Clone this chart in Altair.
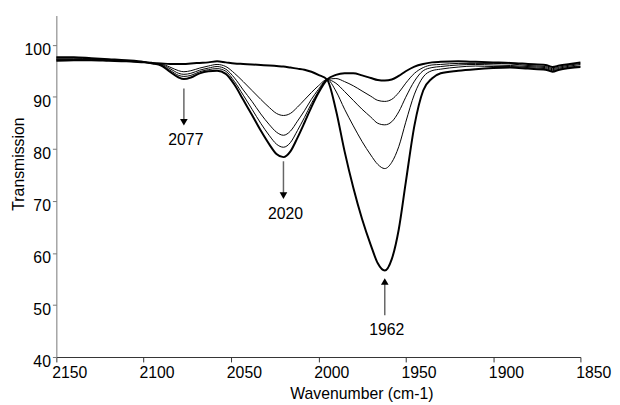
import altair as alt
import pandas as pd

# ---- data ----
wavenumber = [2150, 2140, 2130, 2120, 2110, 2100, 2095, 2090, 2085, 2080,
              2077, 2073, 2068, 2063, 2058, 2053, 2048, 2043, 2038, 2033,
              2028, 2024, 2020, 2016, 2012, 2008, 2004, 2000, 1995, 1990,
              1985, 1980, 1975, 1970, 1966, 1962, 1958, 1954, 1950, 1945,
              1940, 1935, 1930, 1920, 1910, 1900, 1890, 1880, 1870, 1866,
              1862, 1856, 1850]

spectrum_initial = [97.6, 97.6, 97.4, 97.2, 97.0, 96.7, 96.4, 96.0, 94.8, 93.7,
                    93.4, 93.7, 94.5, 94.9, 95.0, 94.4, 92.3, 89.4, 86.5, 83.5,
                    80.8, 79.0, 78.4, 79.5, 82.1, 85.0, 88.0, 90.7, 93.3, 94.2,
                    94.5, 94.5, 94.1, 93.6, 93.2, 93.1, 93.3, 94.0, 94.9, 95.8,
                    96.3, 96.6, 96.7, 96.8, 96.7, 96.6, 96.5, 96.3, 96.1, 95.7,
                    96.0, 96.3, 96.6]

spectrum_step1 = [97.4, 97.4, 97.3, 97.1, 96.9, 96.7, 96.4, 96.1, 95.1, 94.1,
                  93.9, 94.1, 94.8, 95.2, 95.4, 94.9, 92.9, 90.3, 87.6, 84.9,
                  82.5, 80.9, 80.3, 81.2, 83.5, 86.0, 88.7, 91.0, 93.3, 93.5,
                  92.9, 92.1, 91.1, 90.1, 89.3, 89.1, 89.5, 90.8, 92.6, 94.5,
                  95.6, 96.1, 96.2, 96.4, 96.4, 96.4, 96.3, 96.0, 95.8, 95.4,
                  95.7, 96.1, 96.4]

spectrum_step2 = [97.2, 97.2, 97.2, 97.0, 96.9, 96.7, 96.4, 96.2, 95.4, 94.5,
                  94.3, 94.5, 95.1, 95.5, 95.8, 95.3, 93.6, 91.3, 89.1, 86.7,
                  84.6, 83.2, 82.6, 83.4, 85.3, 87.3, 89.5, 91.4, 93.3, 92.6,
                  91.0, 89.3, 87.6, 86.1, 84.9, 84.6, 85.2, 87.1, 89.9, 93.0,
                  95.0, 95.6, 95.8, 96.1, 96.2, 96.1, 96.0, 95.8, 95.6, 95.2,
                  95.5, 95.9, 96.2]

spectrum_step3 = [97.1, 97.1, 97.1, 97.0, 96.8, 96.6, 96.4, 96.3, 95.7, 95.0,
                  94.8, 95.0, 95.5, 95.9, 96.2, 95.8, 94.5, 92.9, 91.2, 89.5,
                  87.9, 86.8, 86.4, 86.8, 88.0, 89.4, 90.8, 92.1, 93.3, 91.1,
                  87.6, 84.4, 81.4, 78.8, 77.0, 76.2, 77.4, 80.4, 85.1, 90.5,
                  93.8, 95.0, 95.3, 95.7, 95.9, 95.8, 95.8, 95.6, 95.4, 95.0,
                  95.3, 95.7, 95.9]

spectrum_final = [96.9, 97.0, 97.0, 96.9, 96.8, 96.6, 96.5, 96.4, 96.3, 96.3,
                  96.3, 96.4, 96.5, 96.6, 96.8, 96.6, 96.4, 96.3, 96.2, 96.1,
                  96.0, 95.9, 95.8, 95.6, 95.4, 95.2, 94.8, 94.2, 93.3, 87.5,
                  79.5, 72.5, 66.5, 61.5, 58.0, 56.6, 58.8, 64.5, 73.5, 84.5,
                  91.2, 93.5, 94.5, 95.0, 95.3, 95.5, 95.6, 95.4, 95.2, 94.8,
                  95.2, 95.5, 95.7]

thick_names = ["initial", "final"]
thin_names = ["step 1", "step 2", "step 3"]
series_names = ["initial", "step 1", "step 2", "step 3", "final"]
series_values = [spectrum_initial, spectrum_step1, spectrum_step2,
                 spectrum_step3, spectrum_final]

# annotations (peak markers)
peak_labels = ["2077", "2020", "1962"]
peak_w = [2077, 2020, 1962]
shaft_from = [91.6, 77.6, 48.0]
shaft_to = [85.1, 71.0, 54.5]
head_dir = ["down", "down", "up"]
label_T = [81.6, 67.5, 45.1]

x_ticks = [2150, 2100, 2050, 2000, 1950, 1900, 1850]
y_ticks = [40, 50, 60, 70, 80, 90, 100]

# ---- tables ----
rows = []
for name, vals in zip(series_names, series_values):
    for w, t in zip(wavenumber, vals):
        rows.append({"w": w, "T": t, "series": name})
spectra = pd.DataFrame(rows)

ann = pd.DataFrame({
    "w": peak_w, "T": shaft_from, "T2": shaft_to,
    "head": shaft_to, "dir": head_dir, "labT": label_T, "text": peak_labels,
})

FONT = "Liberation Sans"
x_scale = alt.Scale(domain=[1850, 2150], reverse=True, nice=False, zero=False)
y_scale = alt.Scale(domain=[40, 105.6], nice=False, zero=False)

x_axis = alt.Axis(values=x_ticks, title="Wavenumber (cm-1)", grid=False,
                  labelFontSize=16, labelFont=FONT, labelColor="black",
                  labelOffset=13, labelPadding=3, tickSize=5,
                  tickColor="#333", domainColor="#333", labelFlush=False,
                  titleFont=FONT, titleFontSize=16, titleFontWeight="normal",
                  titleColor="black", titleX=309, titleY=37,
                  titleBaseline="middle", titleAlign="center", format="d")
y_axis = alt.Axis(values=y_ticks, title="Transmission", grid=False,
                  labelFontSize=16, labelFont=FONT, labelColor="black",
                  labelOffset=5, labelPadding=2, tickSize=4,
                  tickColor="#777", domainColor="#777", labelFlush=False,
                  titleFont=FONT, titleFontSize=16, titleFontWeight="normal",
                  titleColor="black", titleX=-38, titleY=150, titleAngle=-90,
                  titleBaseline="middle", titleAlign="center", format="d")

X = alt.X("w:Q", scale=x_scale, axis=x_axis, title="Wavenumber (cm-1)")

base = alt.Chart(spectra)

thick = base.transform_filter(
    alt.FieldOneOfPredicate(field="series", oneOf=thick_names)
).mark_line(interpolate="monotone", color="black", strokeWidth=2).encode(
    x=X,
    y=alt.Y("T:Q", scale=y_scale, axis=y_axis, title="Transmission"),
    detail="series:N",
    order=alt.Order("w:Q", sort="descending"),
)

thin = base.transform_filter(
    alt.FieldOneOfPredicate(field="series", oneOf=thin_names)
).mark_line(interpolate="monotone", color="black", strokeWidth=1).encode(
    x=X,
    y=alt.Y("T:Q", scale=y_scale, axis=y_axis, title="Transmission"),
    detail="series:N",
    order=alt.Order("w:Q", sort="descending"),
)

shafts = alt.Chart(ann).mark_rule(color="#666", strokeWidth=1.5).encode(
    x=X,
    y=alt.Y("T:Q", scale=y_scale, axis=y_axis, title="Transmission"),
    y2="T2:Q",
)

heads = alt.Chart(ann).mark_point(filled=True, color="black", size=60, opacity=1).encode(
    x=X,
    y=alt.Y("head:Q", scale=y_scale, axis=y_axis, title="Transmission"),
    shape=alt.Shape("dir:N", legend=None,
                    scale=alt.Scale(domain=["down", "up"],
                                    range=["triangle-down", "triangle-up"])),
)

labels = alt.Chart(ann).mark_text(font=FONT, fontSize=16, color="black",
                                  baseline="middle", align="center", dx=2).encode(
    x=X,
    y=alt.Y("labT:Q", scale=y_scale, axis=y_axis, title="Transmission"),
    text="text:N",
)

chart = alt.layer(thin, thick, shafts, heads, labels).properties(
    width=531, height=346,
    autosize=alt.AutoSizeParams(type="none"),
    padding={"left": 49, "top": 5, "right": 32, "bottom": 46},
).configure_view(stroke=None)

chart.save("out.html", embed_options={"renderer": "svg", "actions": False})
